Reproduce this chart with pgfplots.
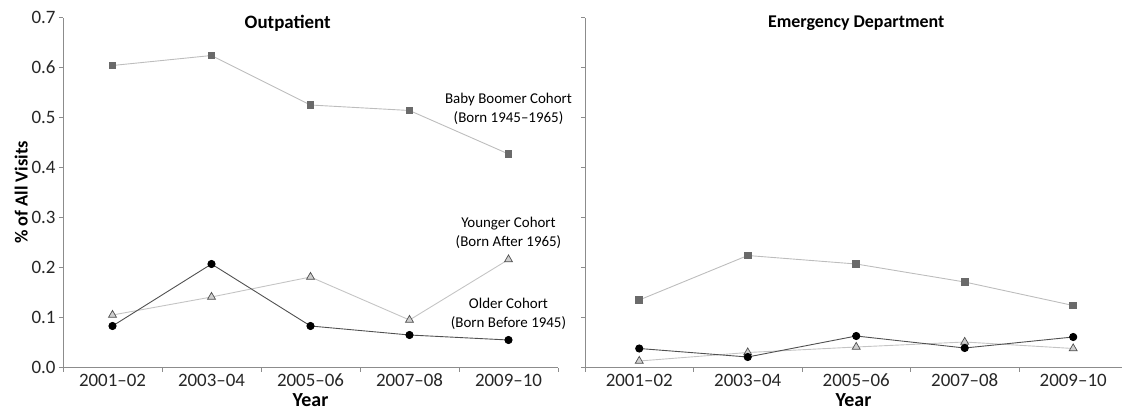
\documentclass[border=0pt]{standalone}
\usepackage{pgfplots}
\pgfplotsset{compat=1.18}
\usepackage{fontspec}
\setmainfont{Carlito}
\definecolor{axgray}{HTML}{8C8C8C}
\definecolor{boomline}{HTML}{BDBDBD}
\definecolor{boommark}{HTML}{6A6A6A}
\definecolor{oldline}{HTML}{505050}
\definecolor{youngline}{HTML}{C4C4C4}
\definecolor{youngfill}{HTML}{CFCFCF}
\pgfplotsset{
  mystyle/.style={
    scale only axis, height=350bp,
    xmin=-0.5, ymin=0, ymax=0.7,
    axis lines*=left,
    axis line style={axgray, line width=1pt},
    xtick={0,1,2,3,4},
    xticklabels={2001--02,2003--04,2005--06,2007--08,2009--10},
    major x tick style={draw=none},
    minor tick length=4bp,
    minor x tick style={axgray, line width=0.8pt},
    tick align=outside,
    ytick={0,0.1,...,0.7},
    major tick length=4bp,
    y tick style={axgray, line width=0.8pt},
    ticklabel style={font=\fontsize{19}{21}\selectfont, text=black!85},
    xticklabel style={yshift=1bp},
    /pgf/number format/assume math mode=true,
    yticklabel style={/pgf/number format/.cd, fixed, fixed zerofill, precision=1},
    xlabel={\textbf{Year}},
    xlabel style={font=\fontsize{20}{22}\selectfont, yshift=0bp},
    clip=false,
  },
  boom/.style={boomline, line width=0.9pt, mark=square*, mark size=3.4bp, mark options={fill=boommark, draw=boommark}},
  old/.style={oldline, line width=0.9pt, mark=*, mark size=3.6bp, mark options={fill=black, draw=black}},
  young/.style={youngline, line width=0.9pt, mark=triangle*, mark size=4.6bp, mark options={fill=youngfill, draw=oldline, line width=0.7pt}},
}
\begin{document}
\begin{tikzpicture}
\useasboundingbox (-63bp,-43.5bp) rectangle (1059bp,367.5bp);
\begin{axis}[mystyle, width=495bp, xmax=4.5,
  minor xtick={-0.5,0.5,1.5,2.5,3.5,4.5},
  ylabel={\textbf{\% of All Visits}},
  ylabel style={font=\fontsize{18.5}{20}\selectfont, yshift=-3bp},
]
\addplot[boom] coordinates {(0,0.604) (1,0.624) (2,0.525) (3,0.514) (4,0.427)};
\addplot[young] coordinates {(0,0.105) (1,0.141) (2,0.181) (3,0.095) (4,0.216)};
\addplot[old] coordinates {(0,0.083) (1,0.207) (2,0.083) (3,0.065) (4,0.055)};
\node[font=\bfseries\fontsize{19}{21}\selectfont] at (axis cs:1.77,0.689) {Outpatient};
\node[font=\fontsize{15}{19}\selectfont, align=center] at (axis cs:4,0.517) {Baby Boomer Cohort\\(Born 1945--1965)};
\node[font=\fontsize{15}{19}\selectfont, align=center] at (axis cs:4,0.269) {Younger Cohort\\(Born After 1965)};
\node[font=\fontsize{15}{19}\selectfont, align=center] at (axis cs:4,0.108) {Older Cohort\\(Born Before 1945)};
\end{axis}
\begin{axis}[mystyle, width=537bp, xmax=4.45, xshift=522bp, yticklabels={},
  minor xtick={-0.5,0.5,1.5,2.5,3.5}]
\addplot[boom] coordinates {(0,0.135) (1,0.224) (2,0.207) (3,0.171) (4,0.124)};
\addplot[young] coordinates {(0,0.013) (1,0.030) (2,0.041) (3,0.051) (4,0.038)};
\addplot[old] coordinates {(0,0.038) (1,0.021) (2,0.063) (3,0.039) (4,0.061)};
\node[font=\bfseries\fontsize{18}{21}\selectfont] at (axis cs:2,0.689) {Emergency Department};
\end{axis}
\end{tikzpicture}
\end{document}
